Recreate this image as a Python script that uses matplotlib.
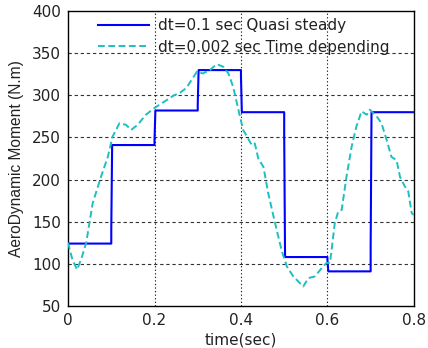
import matplotlib
matplotlib.use("Agg")
import matplotlib.pyplot as plt
import numpy as np

plt.rcParams['font.family'] = ['DejaVu Sans']

# Quasi steady (dt=0.1) step levels
qs_times = [0.0, 0.1, 0.2, 0.3, 0.4, 0.5, 0.6, 0.7, 0.8]
qs_values = [124, 241, 282, 330, 280, 108, 91, 280]

# Time dependent (dt=0.002) curve
td_t = [0.0, 0.010, 0.021, 0.032, 0.042, 0.057, 0.076, 0.092, 0.103, 0.119, 0.134,
        0.146, 0.161, 0.180, 0.200, 0.227, 0.236, 0.245, 0.259, 0.274, 0.298,
        0.312, 0.328, 0.344, 0.359, 0.371, 0.382, 0.394, 0.405, 0.425, 0.432,
        0.440, 0.452, 0.463, 0.479, 0.494, 0.506, 0.521, 0.544, 0.556, 0.571,
        0.587, 0.598, 0.606, 0.617, 0.625, 0.633, 0.644, 0.656, 0.667, 0.679,
        0.691, 0.698, 0.714, 0.725, 0.737, 0.748, 0.760, 0.768, 0.779, 0.787,
        0.795, 0.800]
td_v = [125, 105, 93, 108, 125, 172, 203, 227, 251, 267, 265,
        259, 265, 277, 285, 294, 297, 300, 303, 309, 328,
        326, 330, 337, 334, 326, 310, 283, 259, 241, 243,
        225, 215, 184, 148, 116, 97, 85, 73, 83, 85,
        95, 101, 101, 148, 162, 164, 203, 239, 263, 281,
        277, 283, 275, 267, 247, 227, 223, 203, 192, 186,
        160, 158]

x_ticks = [0, 0.2, 0.4, 0.6, 0.8]
x_ticklabels = ['0', '0.2', '0.4', '0.6', '0.8']
y_ticks = [50, 100, 150, 200, 250, 300, 350, 400]

# build step line with the small jog seen at each transition
sx, sy = [qs_times[0]], [qs_values[0]]
for k in range(1, len(qs_values)):
    t = qs_times[k]
    old, new = qs_values[k - 1], qs_values[k]
    sx += [t, t, t + 0.002]
    sy += [old, old + 0.15 * (new - old), new]
sx.append(qs_times[-1])
sy.append(qs_values[-1])

fig = plt.figure(figsize=(4.28, 3.48), dpi=100)
ax = fig.add_axes([0.159, 0.121, 0.808, 0.847])

ax.plot(sx, sy, color='#0000ff', lw=1.5, label='dt=0.1 sec Quasi steady', zorder=3)
ax.plot(td_t, td_v, color='#1fbfbf', lw=1.4, ls=(0, (3.5, 1.8)),
        label='dt=0.002 sec Time depending', zorder=3)

ax.set_xlim(0, 0.8)
ax.set_ylim(50, 400)
ax.set_xticks(x_ticks)
ax.set_xticklabels(x_ticklabels)
ax.set_yticks(y_ticks)
ax.tick_params(labelsize=11, length=0, colors='#222222')
ax.tick_params(axis='x', pad=5)
ax.tick_params(axis='y', pad=5)

for v in y_ticks[1:-1]:
    ax.axhline(v, color='#333333', lw=0.8, ls=(0, (3, 2.5)), zorder=1)
for v in x_ticks[1:-1]:
    ax.axvline(v, color='#222222', lw=0.8, ls=(0, (1.2, 2)), zorder=1)

for s in ax.spines.values():
    s.set_linewidth(1.0)
    s.set_color('black')

ax.set_xlabel('time(sec)', fontsize=11, labelpad=3, color='#222222')
ax.set_ylabel('AeroDynamic Moment (N.m)', fontsize=11.2, labelpad=6,
              family=['Liberation Sans', 'DejaVu Sans'], color='#222222')

leg = ax.legend(loc='upper left', bbox_to_anchor=(0.087, 0.976), frameon=False,
                fontsize=11, handlelength=3.3, handletextpad=0.6,
                borderpad=0.0, borderaxespad=0.0, labelspacing=0.42)
for txt in leg.get_texts():
    txt.set_color('#222222')

fig.savefig('out.png', dpi=100)
